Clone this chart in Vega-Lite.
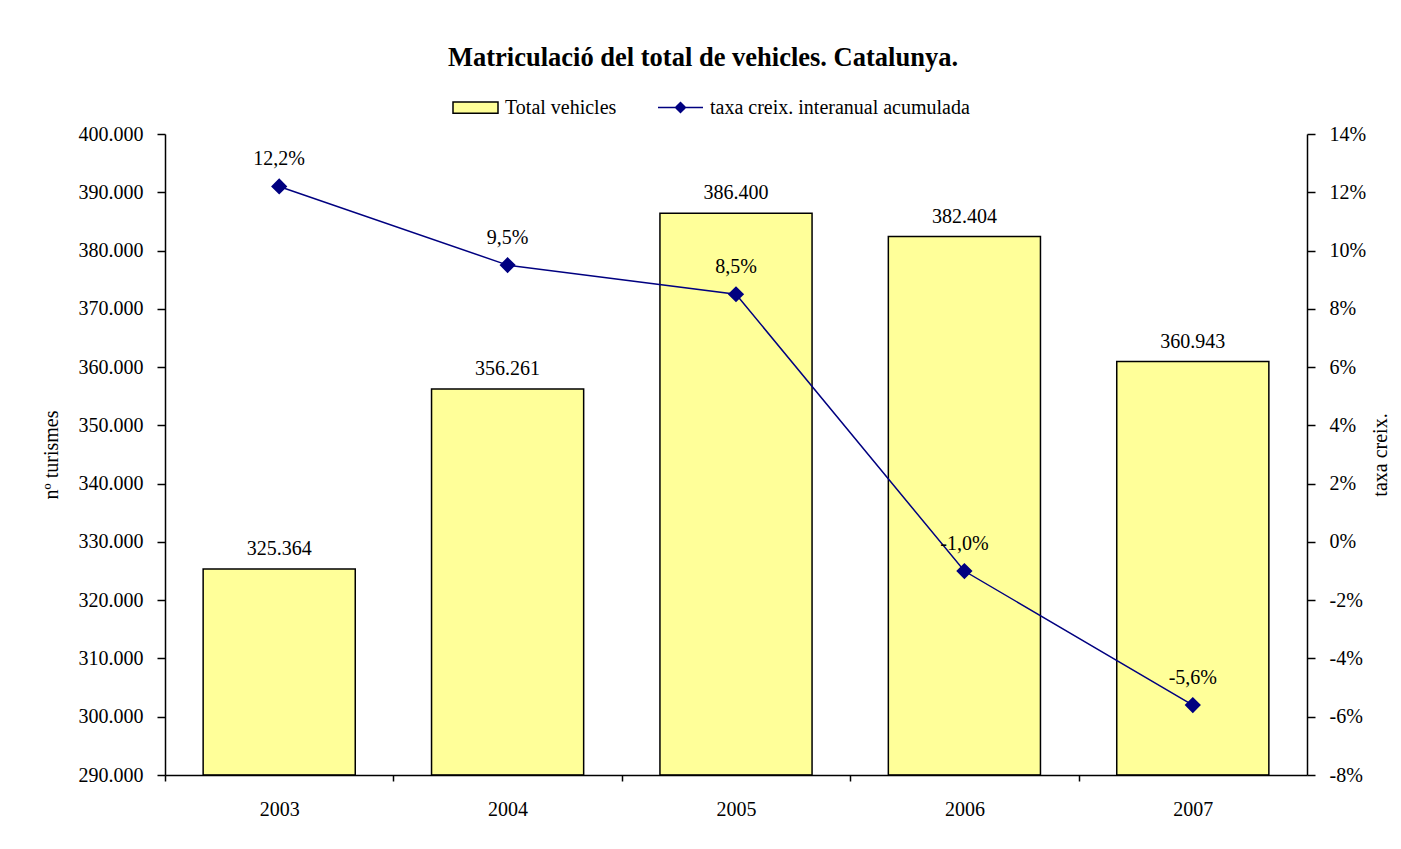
{
  "$schema": "https://vega.github.io/schema/vega-lite/v6.json",
  "width": 1142,
  "height": 641,
  "autosize": {"type": "none"},
  "padding": {"left": 165, "top": 134, "right": 94, "bottom": 74},
  "background": "white",
  "config": {
    "locale": {"number": {"decimal": ",", "thousands": ".", "grouping": [3], "currency": ["", " €"], "minus": "-"}},
    "font": "Liberation Serif",
    "view": {"stroke": null},
    "axis": {
      "labelFont": "Liberation Serif", "titleFont": "Liberation Serif",
      "labelColor": "black", "titleColor": "black",
      "domainColor": "black", "tickColor": "black",
      "labelFontSize": 20, "titleFontSize": 20, "titleFontWeight": "normal",
      "grid": false, "domainWidth": 1.5, "tickWidth": 1.5
    },
    "text": {"font": "Liberation Serif", "fontSize": 20, "color": "black"}
  },
  "title": {
    "text": "Matriculació del total de vehicles. Catalunya.",
    "font": "Liberation Serif", "fontSize": 26.5, "fontWeight": "bold", "color": "black",
    "anchor": "middle", "frame": "group", "dx": -33, "offset": 13
  },
  "data": {
    "values": [
      {"year": "2003", "total": 325364, "taxa": 0.122},
      {"year": "2004", "total": 356261, "taxa": 0.095},
      {"year": "2005", "total": 386400, "taxa": 0.085},
      {"year": "2006", "total": 382404, "taxa": -0.010},
      {"year": "2007", "total": 360943, "taxa": -0.056}
    ]
  },
  "encoding": {
    "x": {
      "field": "year", "type": "ordinal",
      "scale": {"paddingInner": 0.334, "paddingOuter": 0.167},
      "axis": {"title": null, "labelAngle": 0, "tickSize": 6, "labelPadding": 18, "tickOffset": -114.2, "labelOffset": 114.2, "zindex": 1}
    }
  },
  "layer": [
    {
      "encoding": {
        "y": {
          "field": "total", "type": "quantitative",
          "scale": {"domain": [290000, 400000], "nice": false, "zero": false},
          "axis": {
            "title": "nº turismes", "format": ",.0f", "tickSize": 8, "labelPadding": 14, "titlePadding": 17, "zindex": 1,
            "values": [290000, 300000, 310000, 320000, 330000, 340000, 350000, 360000, 370000, 380000, 390000, 400000]
          }
        }
      },
      "layer": [
        {
          "mark": {"type": "bar", "stroke": "black", "strokeWidth": 1.5},
          "encoding": {
            "y2": {"datum": 290000},
            "fill": {
              "datum": "Total vehicles",
              "scale": {"domain": ["Total vehicles"], "range": ["#FFFF99"]},
              "legend": {
                "title": null, "orient": "none", "legendX": 287, "legendY": -50, "direction": "horizontal",
                "labelFont": "Liberation Serif", "labelFontSize": 20, "labelColor": "black", "labelOffset": 6, "labelLimit": 400,
                "symbolSize": 2025, "symbolType": "M-1,-0.25H1V0.25H-1Z",
                "symbolStrokeColor": "black", "symbolStrokeWidth": 1.5,
                "encode": {
                  "symbols": {
                    "update": {
                      "shape": {"value": "M-1,-0.25H1V0.25H-1Z"},
                      "stroke": {"value": "black"},
                      "strokeWidth": {"value": 1.5},
                      "fillOpacity": {"value": 1},
                      "opacity": {"value": 1}
                    }
                  }
                }
              }
            }
          }
        },
        {
          "mark": {"type": "text", "dy": -20},
          "encoding": {"text": {"field": "total", "type": "quantitative", "format": ",.0f"}}
        }
      ]
    },
    {
      "encoding": {
        "y": {
          "field": "taxa", "type": "quantitative",
          "scale": {"domain": [-0.08, 0.14], "nice": false, "zero": false},
          "axis": {
            "orient": "right", "title": "taxa creix.", "format": ".0%", "tickSize": 8, "labelPadding": 14,
            "titlePadding": 5, "titleAngle": 270, "titleBaseline": "top", "zindex": 1,
            "values": [-0.08, -0.06, -0.04, -0.02, 0, 0.02, 0.04, 0.06, 0.08, 0.1, 0.12, 0.14]
          }
        }
      },
      "layer": [
        {
          "mark": {"type": "line", "strokeWidth": 1.5, "point": {"shape": "diamond", "size": 180, "filled": true, "fill": "#000080", "opacity": 1}},
          "encoding": {
            "stroke": {
              "datum": "taxa creix. interanual acumulada",
              "scale": {"domain": ["taxa creix. interanual acumulada"], "range": ["#000080"]},
              "legend": {
                "title": null, "orient": "none", "legendX": 492, "legendY": -50, "direction": "horizontal",
                "labelFont": "Liberation Serif", "labelFontSize": 20, "labelColor": "black", "labelOffset": 6, "labelLimit": 400,
                "symbolSize": 2025,
                "encode": {
                  "symbols": {
                    "update": {
                      "shape": {"value": "M-1,0H1M0,-0.22L0.22,0L0,0.22L-0.22,0Z"},
                      "fill": {"value": "#000080"},
                      "stroke": {"value": "#000080"},
                      "strokeWidth": {"value": 1.5},
                      "fillOpacity": {"value": 1},
                      "opacity": {"value": 1}
                    }
                  }
                }
              }
            }
          }
        },
        {
          "mark": {"type": "text", "dy": -27},
          "encoding": {"text": {"field": "taxa", "type": "quantitative", "format": ".1%"}}
        }
      ]
    }
  ],
  "resolve": {"scale": {"y": "independent"}}
}
